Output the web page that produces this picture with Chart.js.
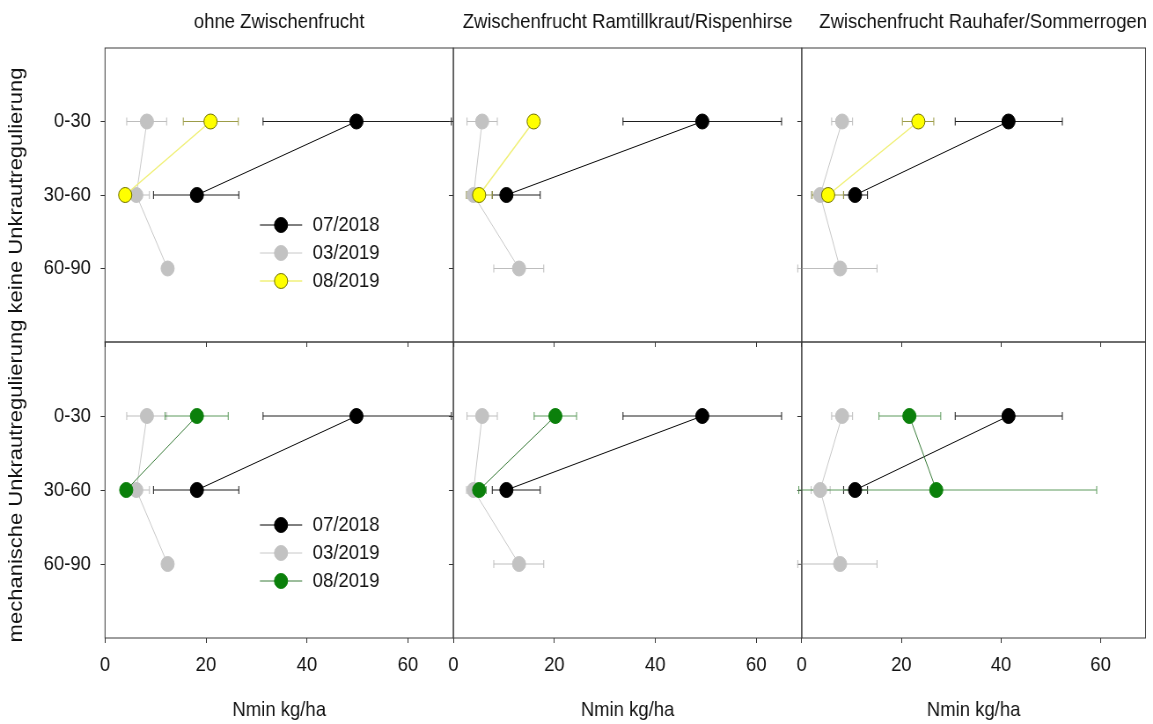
<!DOCTYPE html>
<html>
<head>
<meta charset="utf-8">
<script src="https://cdn.jsdelivr.net/npm/chart.js@4.4.1/dist/chart.umd.min.js"></script>
<style>
  body { margin: 0; background: #fff; }
  #wrap { position: relative; width: 1153px; height: 724px; }
  #wrap canvas { position: absolute; left: 0; top: 0; }
</style>
</head>
<body>
<div id="wrap"></div>
<script>
// depth classes on the (reversed) y axis
var depthLabels = ['0-30', '30-60', '60-90'];
var depthPos = [1, 2, 3];
var xTicks = [0, 20, 40, 60];
var seriesLabels = ['07/2018', '03/2019', '08/2019'];
var panelTitles = ['ohne Zwischenfrucht', 'Zwischenfrucht Ramtillkraut/Rispenhirse', 'Zwischenfrucht Rauhafer/Sommerrogen'];
var rowTitle = 'mechanische Unkrautregulierung keine Unkrautregulierung';
var xTitle = 'Nmin kg/ha';

// Nmin kg/ha, with low / high ends of the error bars
// ohne Zwischenfrucht
var ohneJul18 = [49.8, 18.2], ohneJul18Lo = [31.3, 9.6], ohneJul18Hi = [68.6, 26.5];
var ohneMar19 = [8.3, 6.2, 12.4], ohneMar19Lo = [4.3, 3.5, 12.4], ohneMar19Hi = [12.2, 8.8, 12.4];
var ohneAugKeine = [20.9, 4.0], ohneAugKeineLo = [15.5, 3.0], ohneAugKeineHi = [26.4, 5.0];
var ohneAugMech = [18.2, 4.2], ohneAugMechLo = [11.9, 3.2], ohneAugMechHi = [24.4, 5.2];
// Ramtillkraut/Rispenhirse
var ramJul18 = [49.3, 10.5], ramJul18Lo = [33.6, 7.7], ramJul18Hi = [65.0, 17.2];
var ramMar19 = [5.7, 4.0, 13.0], ramMar19Lo = [2.7, 2.6, 8.0], ramMar19Hi = [8.7, 5.5, 17.9];
var ramAugKeine = [15.9, 5.1], ramAugKeineLo = [15.4, 2.6], ramAugKeineHi = [16.4, 7.7];
var ramAugMech = [20.2, 5.1], ramAugMechLo = [16.0, 3.5], ramAugMechHi = [24.4, 6.5];
// Rauhafer/Sommerrogen
var rauJul18 = [41.5, 10.7], rauJul18Lo = [30.8, 8.4], rauJul18Hi = [52.3, 13.2];
var rauMar19 = [8.1, 3.7, 7.7], rauMar19Lo = [6.0, 1.9, -0.8], rauMar19Hi = [10.2, 5.7, 15.1];
var rauAugKeine = [23.4, 5.3], rauAugKeineLo = [20.2, 2.1], rauAugKeineHi = [26.5, 8.4];
var rauAugMech = [21.6, 27.0], rauAugMechLo = [15.5, -0.6], rauAugMechHi = [27.9, 59.2];

// the picture is squeezed horizontally, so draw wider and let css shrink it
var SQUEEZE = 0.88;
var W = Math.round(1153 / SQUEEZE), H = 724;
var plotLeft = 119.3, panelW = 395.8;
var rowTop = [48, 342], rowBottom = [342, 638];
var Y_AXIS_W = 80, X_AXIS_H = 60;
var FONT = '"Liberation Sans", Arial, sans-serif';

var styles = {
  jul18: { fill: '#000000', edge: '#000000', line: '#000000', lw: 1, err: '#1e1e1e', order: 1 },
  mar19: { fill: '#c2c2c2', edge: '#c2c2c2', line: '#c8c8c8', lw: 1, err: '#bdbdbd', order: 2 },
  augKeine: { fill: '#ffff00', edge: '#6e6e00', line: '#f0f07a', lw: 1.5, err: '#9c9c48', order: 0 },
  augMech: { fill: '#0b800b', edge: '#0b800b', line: '#3b7d3b', lw: 1, err: '#5c9a5c', order: 0 }
};

function series(label, vals, lo, hi, st) {
  return {
    label: label,
    data: vals.map(function (v, i) { return { x: v, y: depthPos[i] }; }),
    errLo: lo, errHi: hi, errColor: st.err,
    showLine: true,
    borderColor: st.line, borderWidth: st.lw,
    pointRadius: 7.5, pointHoverRadius: 7.5,
    pointBackgroundColor: st.fill, pointBorderColor: st.edge, pointBorderWidth: 1,
    order: st.order
  };
}

var errorBars = {
  id: 'errorBars',
  beforeDatasetsDraw: function (chart) {
    var ctx = chart.ctx, xs = chart.scales.x, ys = chart.scales.y;
    var list = chart.data.datasets.slice().sort(function (a, b) { return b.order - a.order; });
    list.forEach(function (ds) {
      ctx.save();
      ctx.strokeStyle = ds.errColor;
      ctx.lineWidth = 1;
      ds.data.forEach(function (p, j) {
        var lo = ds.errLo[j], hi = ds.errHi[j];
        if (lo === hi) return;
        var y = ys.getPixelForValue(p.y);
        var x1 = xs.getPixelForValue(lo), x2 = xs.getPixelForValue(hi);
        ctx.beginPath();
        ctx.moveTo(x1, y); ctx.lineTo(x2, y);
        ctx.moveTo(x1, y - 4); ctx.lineTo(x1, y + 4);
        ctx.moveTo(x2, y - 4); ctx.lineTo(x2, y + 4);
        ctx.stroke();
      });
      ctx.restore();
    });
  }
};

function makeDecor(info) {
  return {
    id: 'decor',
    afterDraw: function (chart) {
      var ctx = chart.ctx, a = chart.chartArea;
      ctx.save();
      ctx.strokeStyle = '#3c3c3c';
      ctx.lineWidth = 1;
      ctx.strokeRect(a.left, a.top, a.right - a.left, a.bottom - a.top);
      ctx.fillStyle = '#111';
      ctx.font = '21px ' + FONT;
      ctx.textAlign = 'center';
      ctx.textBaseline = 'middle';
      if (info.title) ctx.fillText(info.title, (a.left + a.right) / 2 + info.titleShift, a.top - 26);
      if (info.xTitle) ctx.fillText(xTitle, (a.left + a.right) / 2, a.bottom + 72);
      if (info.legend) {
        chart.data.datasets.forEach(function (ds, k) {
          var y = a.top + info.legendTop + 28 * k;
          ctx.strokeStyle = ds.borderColor;
          ctx.lineWidth = ds.borderWidth;
          ctx.beginPath();
          ctx.moveTo(a.left + 176, y); ctx.lineTo(a.left + 224, y);
          ctx.stroke();
          ctx.beginPath();
          ctx.arc(a.left + 200, y, 7.5, 0, Math.PI * 2);
          ctx.fillStyle = ds.pointBackgroundColor;
          ctx.fill();
          ctx.strokeStyle = ds.pointBorderColor;
          ctx.lineWidth = 1;
          ctx.stroke();
          ctx.fillStyle = '#111';
          ctx.textAlign = 'left';
          ctx.fillText(ds.label, a.left + 236, y);
        });
      }
      if (info.yTitle) {
        ctx.fillStyle = '#111';
        ctx.font = '22px ' + FONT;
        ctx.textAlign = 'center';
        ctx.translate(19.3, 355);
        ctx.rotate(-Math.PI / 2);
        ctx.fillText(rowTitle, 0, 0);
      }
      ctx.restore();
    }
  };
}

var panelData = [
  { jul: [ohneJul18, ohneJul18Lo, ohneJul18Hi], mar: [ohneMar19, ohneMar19Lo, ohneMar19Hi],
    keine: [ohneAugKeine, ohneAugKeineLo, ohneAugKeineHi], mech: [ohneAugMech, ohneAugMechLo, ohneAugMechHi] },
  { jul: [ramJul18, ramJul18Lo, ramJul18Hi], mar: [ramMar19, ramMar19Lo, ramMar19Hi],
    keine: [ramAugKeine, ramAugKeineLo, ramAugKeineHi], mech: [ramAugMech, ramAugMechLo, ramAugMechHi] },
  { jul: [rauJul18, rauJul18Lo, rauJul18Hi], mar: [rauMar19, rauMar19Lo, rauMar19Hi],
    keine: [rauAugKeine, rauAugKeineLo, rauAugKeineHi], mech: [rauAugMech, rauAugMechLo, rauAugMechHi] }
];

var wrap = document.getElementById('wrap');

function makePanel(col, row) {
  var canvas = document.createElement('canvas');
  canvas.width = W;
  canvas.height = H;
  canvas.style.width = '1153px';
  canvas.style.height = H + 'px';
  wrap.appendChild(canvas);
  var left = plotLeft + col * panelW, right = left + panelW;
  var d = panelData[col];
  var aug = row === 0 ? d.keine : d.mech;
  var augStyle = row === 0 ? styles.augKeine : styles.augMech;
  var info = {
    title: row === 0 ? panelTitles[col] : null,
    titleShift: col === 2 ? 10.8 : 0,
    xTitle: row === 1,
    legend: col === 0,
    legendTop: row === 0 ? 177 : 183,
    yTitle: col === 0 && row === 1
  };
  new Chart(canvas, {
    type: 'scatter',
    data: {
      datasets: [
        series(seriesLabels[0], d.jul[0], d.jul[1], d.jul[2], styles.jul18),
        series(seriesLabels[1], d.mar[0], d.mar[1], d.mar[2], styles.mar19),
        series(seriesLabels[2], aug[0], aug[1], aug[2], augStyle)
      ]
    },
    options: {
      responsive: false,
      animation: false,
      events: [],
      layout: {
        padding: {
          left: left - Y_AXIS_W, right: W - right,
          top: rowTop[row], bottom: H - rowBottom[row] - X_AXIS_H
        }
      },
      plugins: { legend: { display: false }, tooltip: { enabled: false } },
      scales: {
        x: {
          type: 'linear', min: 0, max: 69,
          afterFit: function (s) { s.height = X_AXIS_H; s.paddingLeft = 0; s.paddingRight = 0; },
          border: { display: false },
          grid: { drawOnChartArea: false, drawTicks: true, tickLength: 5, color: '#333' },
          ticks: {
            display: row === 1, stepSize: 20, includeBounds: false, padding: 10,
            maxRotation: 0, autoSkip: false, color: '#111', font: { family: FONT, size: 21 },
            callback: function (v) { return xTicks.indexOf(v) >= 0 ? String(v) : ''; }
          }
        },
        y: {
          type: 'linear', min: 0, max: 4, reverse: true,
          afterFit: function (s) { s.width = Y_AXIS_W; s.paddingTop = 0; s.paddingBottom = 0; },
          border: { display: false },
          grid: {
            drawOnChartArea: false, drawTicks: true, tickLength: 5,
            color: function (c) { return c.tick && depthPos.indexOf(c.tick.value) >= 0 ? '#333' : 'rgba(0,0,0,0)'; }
          },
          ticks: {
            display: col === 0, stepSize: 1, padding: 11, color: '#111', font: { family: FONT, size: 21 },
            callback: function (v) { var i = depthPos.indexOf(v); return i >= 0 ? depthLabels[i] : ''; }
          }
        }
      }
    },
    plugins: [errorBars, makeDecor(info)]
  });
}

for (var r = 0; r < 2; r++) {
  for (var c = 0; c < 3; c++) makePanel(c, r);
}
</script>
</body>
</html>
